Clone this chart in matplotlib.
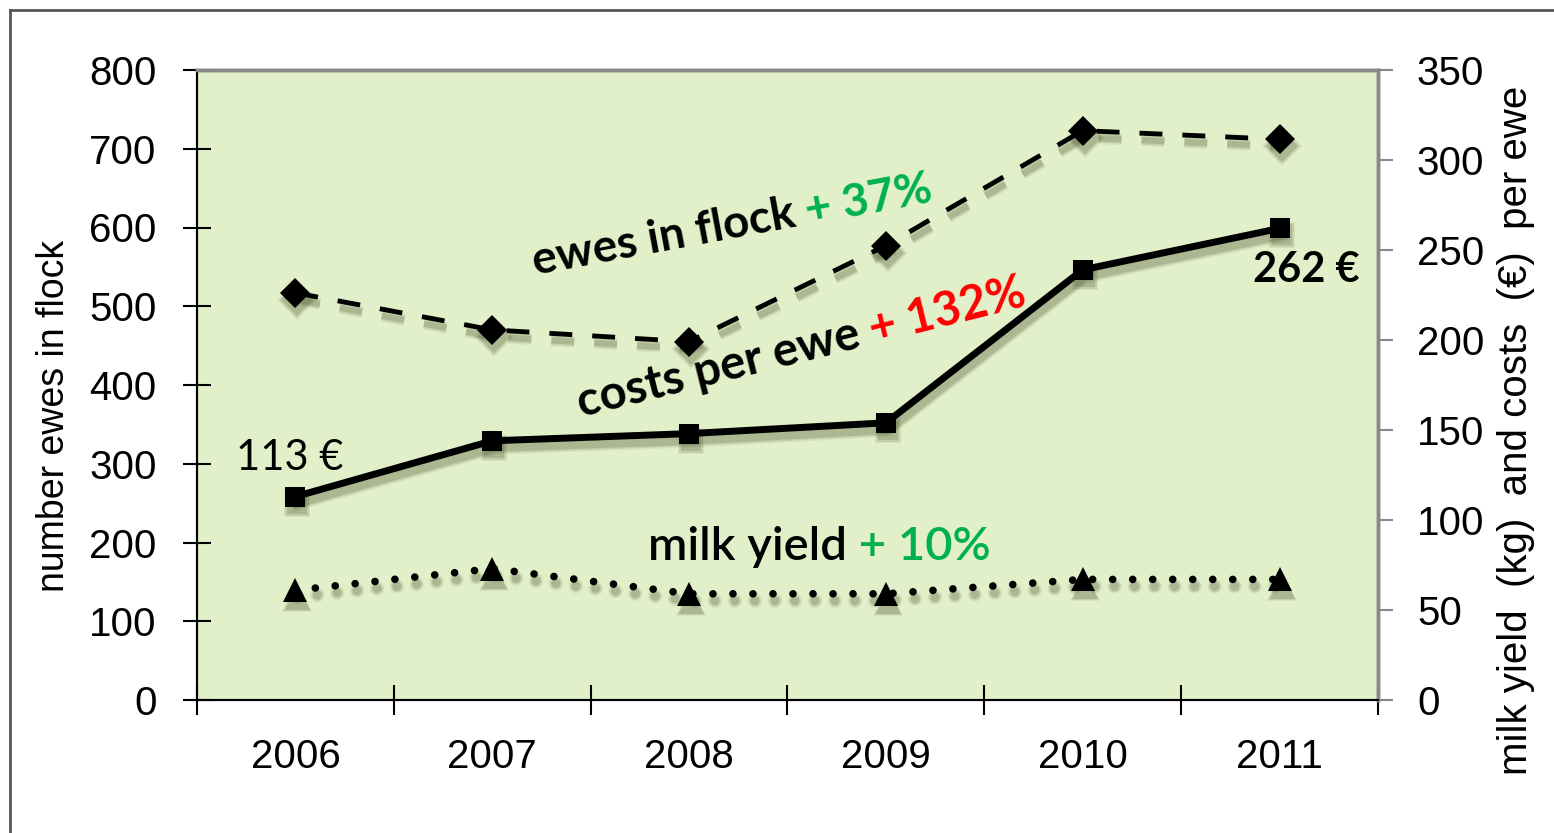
import matplotlib
matplotlib.use("Agg")
import matplotlib.pyplot as plt
from matplotlib.lines import Line2D
from matplotlib.transforms import offset_copy

# data
years = ["2006", "2007", "2008", "2009", "2010", "2011"]
ewes = [517, 470, 455, 577, 723, 712]          # left axis
costs = [113, 144, 148, 154, 239, 262]         # right axis, euro per ewe
milk = [61, 73, 59, 59, 67, 67]                # right axis, kg per ewe

green = "#00b050"
red = "#ff0000"
bg = "#e2f0ca"

plt.rcParams["font.family"] = ["Liberation Sans", "DejaVu Sans"]
plt.rcParams["lines.scale_dashes"] = False   # dash lengths in points, same for shadow
note_font = ["Lato", "DejaVu Sans"]

fig = plt.figure(figsize=(15.54, 8.33), dpi=100)
ax = fig.add_axes([197 / 1554, 133 / 833, 1181 / 1554, 630 / 833])
ax2 = ax.twinx()

x = list(range(len(years)))


def line_with_shadow(axis, yvals, **kw):
    # soft drop shadow: a few offset copies, wider and fainter
    sh = offset_copy(axis.transData, fig=fig, x=2, y=-7, units="dots")
    lw = kw.get("lw", 3)
    ms = kw.get("ms", 10)
    for extra, alpha in ((5, 0.08), (3, 0.12), (1, 0.18)):
        k = {kk: v for kk, v in kw.items() if kk != "color"}
        k["lw"] = lw + extra
        k["ms"] = ms + extra
        axis.plot(x, yvals, color="#3d4a22", alpha=alpha, transform=sh,
                  zorder=2, **k)
    axis.plot(x, yvals, zorder=3, **kw)


line_with_shadow(ax, ewes, color="black", lw=3.5, linestyle=(0, (16.5, 14.4)),
                 marker="D", ms=15, markeredgewidth=0)
line_with_shadow(ax2, costs, color="black", lw=5, marker="s", ms=14,
                 markeredgewidth=0)
line_with_shadow(ax2, milk, color="black", lw=5.5, linestyle=(0, (0.01, 14.4)),
                 dash_capstyle="round", marker="^", ms=17, markeredgewidth=0)

ax.set_facecolor(bg)
ax.set_xlim(-0.5, 5.5)
ax.set_ylim(0, 800)
ax2.set_ylim(0, 350)
ax.set_yticks(range(0, 801, 100))
ax2.set_yticks(range(0, 351, 50))

ax.set_xticks(x)
ax.set_xticklabels(years)
ax.set_xticks([i - 0.5 for i in range(len(years) + 1)], minor=True)
ax.tick_params(axis="x", which="major", length=0, pad=27, labelsize=29)
ax.tick_params(axis="x", which="minor", direction="inout", length=21, width=1.5)
ax.tick_params(axis="y", direction="inout", length=20, width=1.5, pad=19, labelsize=29)
ax2.tick_params(axis="y", direction="out", length=11, width=1.5, color="#888888",
                pad=17, labelsize=29)

for a in (ax, ax2):
    a.spines["left"].set_color("black")
    a.spines["bottom"].set_color("black")
    a.spines["left"].set_linewidth(1.5)
    a.spines["bottom"].set_linewidth(1.5)
    a.spines["top"].set_color("#888888")
    a.spines["right"].set_color("#888888")
    a.spines["top"].set_linewidth(2.5)
    a.spines["right"].set_linewidth(2.5)

fig.text(54 / 1554, 1 - 416 / 833, "number ewes in flock", rotation=90,
         ha="center", va="center", fontsize=27)
fig.text(1516 / 1554, 1 - 430 / 833, "milk yield  (kg)  and costs  (€)  per ewe",
         rotation=90, ha="center", va="center", fontsize=29)

# annotations
ax2.text(-0.03, 128, "113 €", ha="center", va="baseline", fontsize=30,
         family=note_font, zorder=5)
ax2.text(5.135, 232, "262 €", ha="center", va="baseline", fontsize=30,
         family=note_font, fontweight="bold", zorder=5)


def two_part(axis, xp, yp, first, second, color, angle, size, weight):
    axis.text(xp, yp, first, ha="right", va="baseline", rotation=angle,
              rotation_mode="anchor", fontsize=size, family=note_font,
              fontweight=weight, color="black", zorder=5)
    axis.text(xp, yp, " " + second, ha="left", va="baseline", rotation=angle,
              rotation_mode="anchor", fontsize=size, family=note_font,
              fontweight=weight, color=color, zorder=5)


two_part(ax2, 2.55, 263, "ewes in flock", "+ 37%", green, 10.5, 33, "bold")
two_part(ax2, 2.88, 196, "costs per ewe", "+ 132%", red, 14, 34, "bold")
two_part(ax2, 2.80, 78, "milk yield", "+ 10%", green, 0, 34, "semibold")

# outer frame (top and left edges visible)
fig.add_artist(Line2D([10 / 1554, 10 / 1554], [0, 1 - 10 / 833], color="#555555", lw=2))
fig.add_artist(Line2D([10 / 1554, 1], [1 - 10 / 833, 1 - 10 / 833], color="#555555", lw=2))

fig.savefig("out.png", dpi=100)
